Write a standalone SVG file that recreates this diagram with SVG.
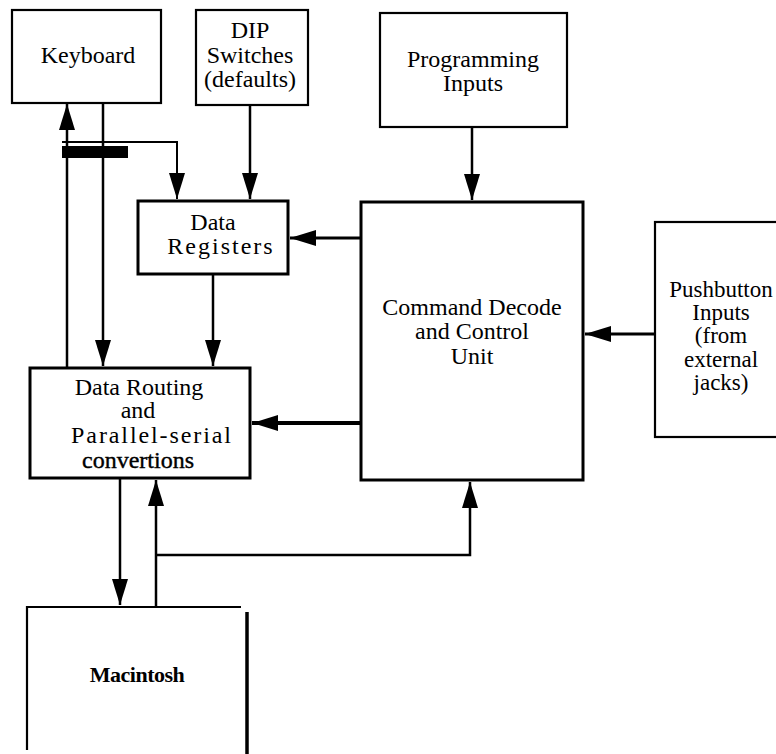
<svg xmlns="http://www.w3.org/2000/svg" width="776" height="754" viewBox="0 0 776 754">
  <style>
    .box { fill: #fff; stroke: #000; stroke-width: 2.2; }
    .thick { stroke-width: 3; }
    .lbl { font-family: "Liberation Serif", "Times New Roman", serif; font-size: 24px; fill: #000; text-anchor: middle; }
    .wire { fill: none; stroke: #000; stroke-width: 2.5; }
    .arrow { marker-end: url(#head); }
  </style>
  <defs>
    <marker id="head" markerUnits="userSpaceOnUse" markerWidth="28" markerHeight="18" refX="26" refY="8" orient="auto">
      <path d="M0,0 L26,8 L0,16 Z" fill="#000"/>
    </marker>
  </defs>
  <rect width="776" height="754" fill="#fff"/>

  <!-- connectors -->
  <g id="connectors">
    <line class="wire arrow" x1="67" y1="368" x2="67" y2="104"/>
    <line class="wire arrow" x1="103" y1="104" x2="103" y2="366"/>
    <polyline class="wire arrow" points="62,142 177,142 177,199" style="stroke-width:2"/>
    <rect x="62" y="146" width="66" height="12" fill="#000"/>
    <line class="wire arrow" x1="250" y1="105" x2="250" y2="199"/>
    <line class="wire arrow" x1="472" y1="127" x2="472" y2="200"/>
    <line class="wire arrow" x1="361" y1="238" x2="290" y2="238" style="stroke-width:3"/>
    <line class="wire arrow" x1="655" y1="334" x2="585" y2="334" style="stroke-width:3"/>
    <line class="wire arrow" x1="361" y1="423" x2="252" y2="423" style="stroke-width:4"/>
    <line class="wire arrow" x1="213" y1="274" x2="213" y2="366"/>
    <line class="wire arrow" x1="120" y1="478" x2="120" y2="605"/>
    <line class="wire arrow" x1="156" y1="607" x2="156" y2="480"/>
    <polyline class="wire arrow" points="156,555 470,555 470,482"/>
  </g>

  <g id="keyboard">
    <rect class="box" x="12" y="10" width="149" height="93"/>
    <text class="lbl" x="88" y="63">Keyboard</text>
  </g>

  <g id="dip-switches">
    <rect class="box" x="196" y="10" width="112" height="95"/>
    <text class="lbl" x="250" y="38">DIP</text>
    <text class="lbl" x="250" y="63">Switches</text>
    <text class="lbl" x="250" y="87">(defaults)</text>
  </g>

  <g id="programming-inputs">
    <rect class="box" x="380" y="13" width="187" height="114"/>
    <text class="lbl" x="473" y="67">Programming</text>
    <text class="lbl" x="473" y="91">Inputs</text>
  </g>

  <g id="data-registers">
    <rect class="box thick" x="138" y="201" width="150" height="73"/>
    <text class="lbl" x="213" y="230">Data</text>
    <text class="lbl" x="221" y="254" style="letter-spacing:2px">Registers</text>
  </g>

  <g id="command-decode">
    <rect class="box thick" x="361" y="202" width="222" height="278"/>
    <text class="lbl" x="472" y="315">Command Decode</text>
    <text class="lbl" x="472" y="339">and Control</text>
    <text class="lbl" x="472" y="364">Unit</text>
  </g>

  <g id="pushbutton-inputs">
    <rect class="box" x="655" y="222" width="130" height="215"/>
    <text class="lbl" x="721" y="297" style="font-size:23px">Pushbutton</text>
    <text class="lbl" x="721" y="320" style="font-size:23px">Inputs</text>
    <text class="lbl" x="721" y="343" style="font-size:23px">(from</text>
    <text class="lbl" x="721" y="367" style="font-size:23px">external</text>
    <text class="lbl" x="721" y="390" style="font-size:23px">jacks)</text>
  </g>

  <g id="data-routing">
    <rect class="box thick" x="30" y="368" width="220" height="110"/>
    <text class="lbl" x="139" y="395">Data Routing</text>
    <text class="lbl" x="138" y="418">and</text>
    <text class="lbl" x="152" y="443" style="letter-spacing:1.9px">Parallel-serial</text>
    <text class="lbl" x="138" y="468" style="stroke:#000;stroke-width:0.4">convertions</text>
  </g>

  <g id="macintosh">
    <path d="M27,750 L27,607 L241,607" fill="none" stroke="#000" stroke-width="2.2"/>
    <line x1="247" y1="612" x2="247" y2="754" stroke="#000" stroke-width="3.5"/>
    <text class="lbl" x="137" y="682" style="font-size:22px;font-weight:bold;letter-spacing:-0.5px">Macintosh</text>
  </g>
</svg>
